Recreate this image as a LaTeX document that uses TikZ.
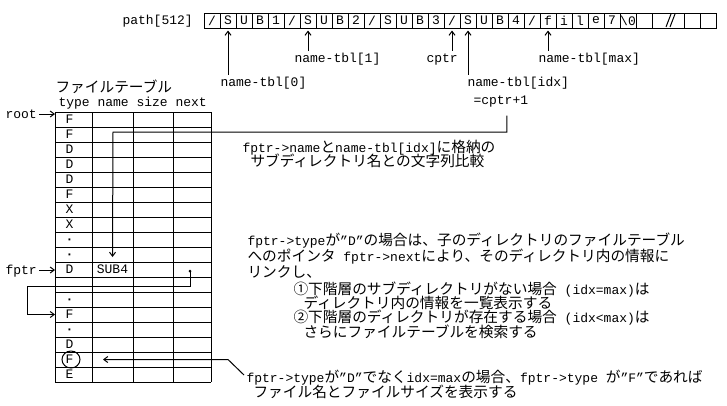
\documentclass[tikz,border=0pt]{standalone}
\usepackage{fontspec}
\setmainfont{Liberation Mono}
\newfontfamily\jpfont{Noto Sans CJK JP}[Scale=1.13]
\usetikzlibrary{arrows.meta}

% kana, kanji and circled numbers are set in the Japanese font
\XeTeXinterchartokenstate=1
\chardef\jpcls=10
\newcount\jpc
\def\setjprange#1#2{\jpc=#1\relax
  \loop\XeTeXcharclass\jpc=\jpcls\relax
  \ifnum\jpc<#2\advance\jpc by 1\repeat}
\setjprange{"2460}{"2473}
\setjprange{"3000}{"30FF}
\setjprange{"4E00}{"9FFF}
\setjprange{"FF00}{"FFEF}
\XeTeXinterchartoks 0 \jpcls = {\jpfont}
\XeTeXinterchartoks 4095 \jpcls = {\jpfont}
\XeTeXinterchartoks \jpcls 0 = {\rmfamily}
\XeTeXinterchartoks \jpcls 4095 = {\rmfamily}

\newcommand\tdot{\textbf{·}}

\begin{document}
\begin{tikzpicture}[x=1pt, y=-1pt, line width=1pt,
    lbl/.style={font=\fontsize{13pt}{16pt}\selectfont, inner sep=0pt, text height=11pt, text depth=3pt, anchor=west},
    cell/.style={font=\fontsize{13pt}{16pt}\selectfont, inner sep=0pt, minimum width=16pt, minimum height=15pt},
    arr/.style={-{Straight Barb[length=4pt,width=6pt]}}]
        \fill[white] (0,0) rectangle (727,405);
        \useasboundingbox (0,0) rectangle (727,405);

        % path buffer
        \node[lbl] (path) at (122,20.5) {path[512]};
        \draw (204,13) rectangle (716,28);
        \foreach \i in {1,...,28,30,31} \draw (204+16*\i,13) -- (204+16*\i,28);
        \draw (666,27) -- (671,14) (670,27) -- (675,14);
        \foreach \c [count=\i from 0] in {/,S,U,B,1,/,S,U,B,2,/,S,U,B,3,/,S,U,B,4,/,f,i,l,e,7,{\textbackslash 0}}
            \node[cell] (c\i) at (212+16*\i,20.5) {\c};

        % pointers into the buffer
        \node[lbl] (tbl0) at (220,82) {name-tbl[0]};
        \node[lbl] (tbl1) at (294,58) {name-tbl[1]};
        \node[lbl] (cptr) at (426,58) {cptr};
        \node[lbl] (tblidx) at (467,82) {name-tbl[idx]};
        \node[lbl] (incr) at (473,100) {=cptr+1};
        \node[lbl] (tblmax) at (538,58) {name-tbl[max]};
        \draw[arr, shorten >=2pt] (tbl0.north -| c1) -- (c1.south);
        \draw[arr, shorten >=2pt] (tbl1.north -| c6) -- (c6.south);
        \draw[arr, shorten >=2pt] (cptr.north -| c15) -- (c15.south);
        \draw[arr, shorten >=2pt] (tblidx.north -| c16) -- (c16.south);
        \draw[arr, shorten >=2pt] (tblmax.north -| c21) -- (c21.south);

        % file table
        \node[lbl] (ftitle) at (55,88) {ファイルテーブル};
        \node[lbl] (fhead) at (58,102) {type name size next};
        \foreach \x in {55,92,133,173,211} \draw (\x,112) -- (\x,382);
        \foreach \r in {0,...,18} \draw (55,112+15*\r) -- (211,112+15*\r);
        \coordinate (tbltop) at (55,112);
        \foreach \t [count=\i from 0] in {F,F,D,D,D,F,X,X,\tdot,\tdot,D,,\tdot,F,\tdot,D,F,E}
            \node[lbl, anchor=center] (t\i) at (69.5,119.5+15*\i) {\t};
        \node[lbl, anchor=center] (sub4) at (112.5,269.5) {SUB4};
        \draw (71,359.5) ellipse [x radius=9, y radius=8.5];

        \node[lbl] (root) at (5,114) {root};
        \node[lbl] (fptr) at (5,270) {fptr};
        \draw[arr] ([xshift=2pt]root.east) -- (root.east -| tbltop);
        \draw[arr] ([xshift=2pt]fptr.east) -- (fptr.east -| tbltop);

        % name compare
        \coordinate (cmp) at (113,132);
        \draw[arr] ([xshift=6pt, yshift=-8pt]incr.south) |- (cmp) -- ([yshift=5pt]sub4.north);
        \node[lbl] (cmp1) at (242,148) {fptr->nameとname-tbl[idx]に格納の};
        \node[lbl] (cmp2) at (250,162) {サブディレクトリ名との文字列比較};

        % link to the child table
        \coordinate (nx) at (190,271);
        \coordinate (back) at (27,286);
        \fill (nx) circle (1.5pt);
        \draw[arr] (nx) |- (back) |- (t13.center -| tbltop);
        \node[lbl] (dir1) at (247,241) {fptr->typeが”D”の場合は、子のディレクトリのファイルテーブル};
        \node[lbl] (dir2) at (247,257) {へのポインタ fptr->nextにより、そのディレクトリ内の情報に};
        \node[lbl] (dir3) at (247,273) {リンクし、};
        \node[lbl] (case1) at (293,290) {①下階層のサブディレクトリがない場合 (idx=max)は};
        \node[lbl] (case1b) at (303,304) {ディレクトリ内の情報を一覧表示する};
        \node[lbl] (case2) at (293,318) {②下階層のディレクトリが存在する場合 (idx<max)は};
        \node[lbl] (case2b) at (303,333) {さらにファイルテーブルを検索する};

        % file entry
        \coordinate (bend) at (228,359.5);
        \coordinate (ftip) at (103,359.5);
        \node[lbl] (fil1) at (246,378) {fptr->typeが”D”でなくidx=maxの場合、fptr->type が”F”であれば};
        \node[lbl] (fil2) at (253,393) {ファイル名とファイルサイズを表示する};
        \draw[arr] ([xshift=-2pt, yshift=3pt]fil1.west) -- (bend) -- (ftip);
\end{tikzpicture}
\end{document}
